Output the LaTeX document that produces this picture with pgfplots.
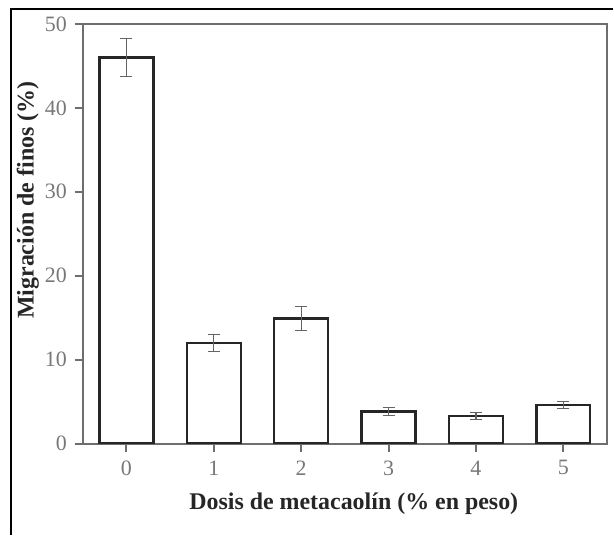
\documentclass[border=0pt]{standalone}
\usepackage{fontspec}
\setmainfont{Liberation Serif}
\usepackage{pgfplots}
\pgfplotsset{compat=1.18}
\definecolor{axgray}{RGB}{110,110,110}
\definecolor{tickgray}{RGB}{120,120,120}
\definecolor{errgray}{RGB}{100,100,100}
\begin{document}
\begin{tikzpicture}
\begin{axis}[
  scale only axis,
  width=263pt, height=210.5pt,
  xmin=-0.5, xmax=5.5,
  ymin=0, ymax=50,
  xtick={0,1,2,3,4,5},
  ytick={0,10,20,30,40,50},
  tick pos=left,
  tick align=outside,
  major tick length=4pt,
  axis line style={axgray, line width=1pt},
  every tick/.style={axgray, line width=1pt},
  tick label style={tickgray, font=\fontsize{11}{13}\selectfont},
  /pgf/number format/assume math mode=true,
  xticklabel style={yshift=-1pt},
  yticklabel style={xshift=-0.5pt},
  xlabel={\bfseries Dosis de metacaolín (\% en peso)},
  ylabel={\bfseries Migración de finos (\%)},
  label style={font=\fontsize{12}{14}\selectfont, black!85},
  xlabel style={at={(axis description cs:0.517,-0.1425)}, anchor=center},
  ylabel style={at={(axis description cs:-0.1046,0.58)}, anchor=center},
]
\addplot[ybar, bar width=27pt, draw=black!85, line width=1.2pt, fill=white,
  error bars/.cd, y dir=both, y explicit,
  error bar style={errgray, line width=0.6pt},
  error mark options={rotate=90, mark size=3pt, errgray, line width=0.6pt}]
  table[x=x, y=y, y error=e] {
  x y e
  0 46.0 2.3
  1 12.0 1.0
  2 14.9 1.4
  3 3.8 0.5
  4 3.3 0.4
  5 4.6 0.45
};
\end{axis}
\draw[line width=1pt, black] (-36pt,-46pt) -- (-36pt,218pt) -- (266pt,218pt);
\useasboundingbox (-41.5pt,-45.5pt) rectangle (265.5pt,222.5pt);
\end{tikzpicture}
\end{document}
